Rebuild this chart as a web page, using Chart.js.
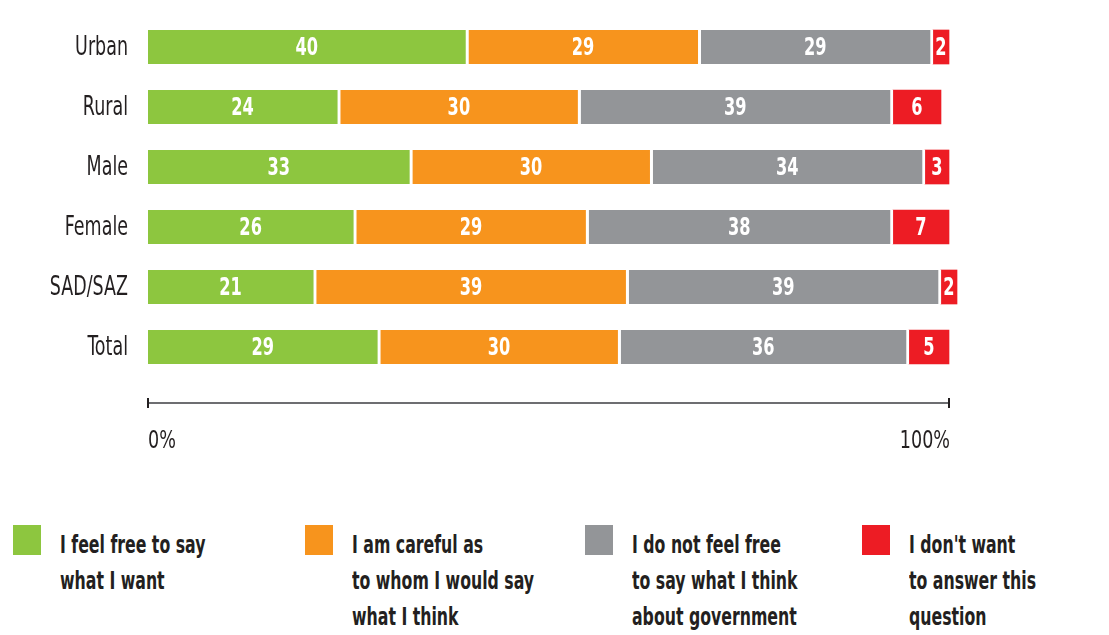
<!DOCTYPE html>
<html>
<head>
<meta charset="utf-8">
<script src="https://cdn.jsdelivr.net/npm/chart.js@4.4.1/dist/chart.umd.min.js"></script>
<style>
  body { margin: 0; background: #fff; width: 1109px; height: 635px; position: relative; overflow: hidden;
         font-family: "DejaVu Sans Condensed", "Liberation Sans Narrow", sans-serif; color: #231f20; }
  #wrap { position: absolute; left: 0; top: 0; width: 1109px; height: 480px; }
  .key { position: absolute; top: 525px; }
  .key .sw { position: absolute; left: 0; top: 0; width: 28px; height: 30px; }
  .key .txt { position: absolute; left: 47px; top: 2px; font-weight: bold; font-size: 25px; line-height: 36px;
              white-space: nowrap; transform: scaleX(0.7); transform-origin: left top; }
</style>
</head>
<body>
<div id="wrap"><canvas id="freeSpeechChart"></canvas></div>
<div id="legend"></div>
<script>
const categories = ['Urban', 'Rural', 'Male', 'Female', 'SAD/SAZ', 'Total'];
const freeToSay = [40, 24, 33, 26, 21, 29];
const carefulToWhom = [29, 30, 30, 29, 39, 30];
const notFreeAboutGov = [29, 39, 34, 38, 39, 36];
const noAnswer = [2, 6, 3, 7, 2, 5];
const axisLabels = ['0%', '100%'];

const seriesNames = [
    ['I feel free to say', 'what I want'],
    ['I am careful as', 'to whom I would say', 'what I think'],
    ['I do not feel free', 'to say what I think', 'about government'],
    ["I don't want", 'to answer this', 'question']
];
const colors = ['#8dc63f', '#f7941d', '#939598', '#ed1c24'];
const FONT = '"DejaVu Sans Condensed", "Liberation Sans Narrow", sans-serif';
const SQUEEZE = 0.72; // narrow the glyphs horizontally

function squeezedText(ctx, text, x, y, align, sx) {
    ctx.save();
    ctx.translate(x, y);
    ctx.scale(sx, 1);
    ctx.textAlign = align;
    ctx.fillText(text, 0, 0);
    ctx.restore();
}

// category names left of the bars
const categoryLabels = {
    id: 'categoryLabels',
    afterDraw(chart) {
        const ctx = chart.ctx;
        const y = chart.scales.y;
        ctx.save();
        ctx.fillStyle = '#231f20';
        ctx.font = '27px ' + FONT;
        ctx.textBaseline = 'middle';
        categories.forEach((c, i) => {
            squeezedText(ctx, c, y.right - 20, y.getPixelForValue(i) + 1, 'right', SQUEEZE);
        });
        ctx.restore();
    }
};

// white numbers in the middle of each segment
const valueLabels = {
    id: 'valueLabels',
    afterDatasetsDraw(chart) {
        const ctx = chart.ctx;
        ctx.save();
        ctx.fillStyle = '#fff';
        ctx.font = 'bold 25px ' + FONT;
        ctx.textBaseline = 'middle';
        chart.data.datasets.forEach((ds, i) => {
            chart.getDatasetMeta(i).data.forEach((bar, j) => {
                const left = Math.min(bar.x, bar.base);
                const right = Math.max(bar.x, bar.base);
                const gap = i < 3 ? 3 : 0;
                squeezedText(ctx, String(ds.data[j]), (left + right - gap) / 2, bar.y + 1, 'center', 0.72);
            });
        });
        ctx.restore();
    }
};

// bottom scale: a plain line with end ticks and 0% / 100%
const percentAxis = {
    id: 'percentAxis',
    afterDraw(chart) {
        const ctx = chart.ctx;
        const x = chart.scales.x;
        const x0 = x.getPixelForValue(0);
        const x1 = x.getPixelForValue(100);
        const y = chart.chartArea.bottom + 26;
        ctx.save();
        ctx.strokeStyle = '#6d6e71';
        ctx.lineWidth = 2;
        ctx.beginPath();
        ctx.moveTo(x0, y);
        ctx.lineTo(x1, y);
        ctx.stroke();
        ctx.strokeStyle = '#231f20';
        ctx.beginPath();
        ctx.moveTo(x0, y - 5); ctx.lineTo(x0, y + 5);
        ctx.moveTo(x1, y - 5); ctx.lineTo(x1, y + 5);
        ctx.stroke();
        ctx.fillStyle = '#231f20';
        ctx.font = '25px ' + FONT;
        ctx.textBaseline = 'alphabetic';
        squeezedText(ctx, axisLabels[0], x0, y + 45, 'left', 0.78);
        squeezedText(ctx, axisLabels[1], x1 + 1, y + 45, 'right', 0.78);
        ctx.restore();
    }
};

const allSeries = [freeToSay, carefulToWhom, notFreeAboutGov, noAnswer];

new Chart(document.getElementById('freeSpeechChart'), {
    type: 'bar',
    data: {
        labels: categories,
        datasets: allSeries.map((vals, i) => ({
            label: seriesNames[i].join(' '),
            data: vals,
            backgroundColor: colors[i],
            borderColor: '#ffffff',
            borderWidth: i < 3 ? { right: 3, left: 0, top: 0, bottom: 0 } : 0,
            borderSkipped: false,
            barThickness: 34,
            clip: false
        }))
    },
    options: {
        indexAxis: 'y',
        responsive: true,
        maintainAspectRatio: false,
        animation: false,
        layout: { padding: { left: 0, right: 160, top: 17, bottom: 103 } },
        plugins: { legend: { display: false }, tooltip: { enabled: false } },
        scales: {
            x: { stacked: true, min: 0, max: 100, display: false },
            y: {
                stacked: true,
                grid: { display: false, drawTicks: false },
                border: { display: false },
                ticks: { display: false },
                afterFit(scale) {
                    scale.width = 148;
                    scale.paddingTop = 0;
                    scale.paddingBottom = 0;
                }
            }
        }
    },
    plugins: [valueLabels, categoryLabels, percentAxis]
});

// legend below the chart
const legendLeft = [13, 305, 585, 862];
const legend = document.getElementById('legend');
seriesNames.forEach((lines, i) => {
    const key = document.createElement('div');
    key.className = 'key';
    key.style.left = legendLeft[i] + 'px';
    key.innerHTML = '<div class="sw" style="background:' + colors[i] + '"></div>' +
        '<div class="txt">' + lines.join('<br>') + '</div>';
    legend.appendChild(key);
});
</script>
</body>
</html>
